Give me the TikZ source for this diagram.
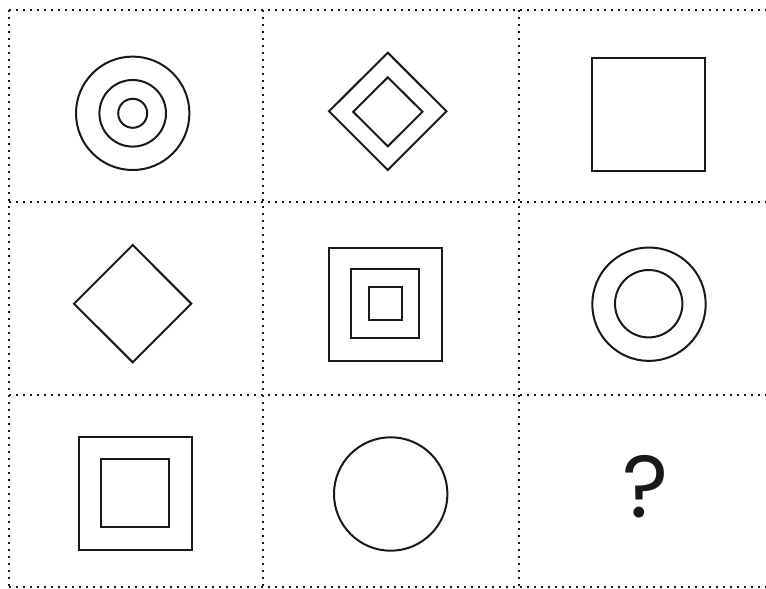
\documentclass[tikz,border=0pt]{standalone}
\usepackage{fontspec}
\newfontfamily\qfont{Poppins}
\begin{document}
\begin{tikzpicture}[x=1pt,y=-1pt,
  grid/.style={line width=2.2pt,dash pattern=on 2.2pt off 4.8pt,black!90},
  shp/.style={line width=2pt,black!90}]
\useasboundingbox (0,0) rectangle (766,589);
% grid
\draw[grid] (9,10) -- (766,10);
\draw[grid] (9,202) -- (766,202);
\draw[grid] (9,395) -- (766,395);
\draw[grid] (9,587) -- (766,587);
\draw[grid] (9,10) -- (9,587);
\draw[grid] (263,10) -- (263,587);
\draw[grid] (519,10) -- (519,587);
% cell 1: three circles
\draw[shp] (132.7,113.3) circle (56.7);
\draw[shp] (132.7,113.3) circle (33.3);
\draw[shp] (132.7,113.3) circle (14.5);
% cell 2: two diamonds
\draw[shp] (387.8,52.7) -- (446.5,111.3) -- (387.8,170) -- (329,111.3) -- cycle;
\draw[shp] (387.8,77.3) -- (422.5,111.8) -- (387.8,146.3) -- (353.2,111.8) -- cycle;
% cell 3: square
\draw[shp] (592.3,58.3) rectangle (704.7,171.3);
% cell 4: diamond
\draw[shp] (132.7,245) -- (191.3,303.7) -- (132.7,362.3) -- (74,303.7) -- cycle;
% cell 5: three squares
\draw[shp] (328.7,247.7) rectangle (442.3,361);
\draw[shp] (351.3,269.3) rectangle (419.3,338);
\draw[shp] (369.3,287.3) rectangle (401.7,320.3);
% cell 6: two circles
\draw[shp] (649,304.2) circle (56.7);
\draw[shp] (648.7,303.7) circle (33.7);
% cell 7: two squares
\draw[shp] (78.7,437) rectangle (192.3,550);
\draw[shp] (101,459.3) rectangle (169.3,527.3);
% cell 8: circle
\draw[shp] (390.7,494) circle (56.7);
% cell 9: question mark
\node[inner sep=0pt,font=\qfont\fontsize{88}{88}\selectfont,text=black!90] (q) at (645.3,486.5) {?};
\end{tikzpicture}
\end{document}
